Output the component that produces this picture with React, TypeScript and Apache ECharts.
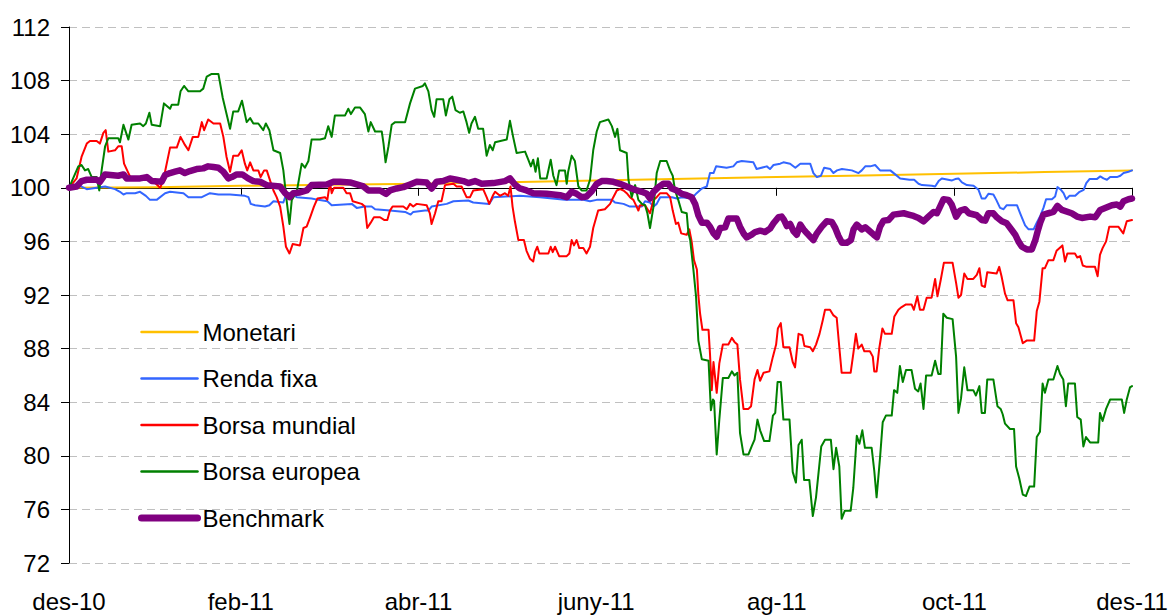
import React, { useEffect, useRef } from 'react';
import * as echarts from 'echarts';

// x = days elapsed since 2010-12-31
const tickDays = [0, 59, 120, 181, 243, 304, 365];
const tickLabels = ['des-10', 'feb-11', 'abr-11', 'juny-11', 'ag-11', 'oct-11', 'des-11'];

const seriesNames = ['Monetari', 'Renda fixa', 'Borsa mundial', 'Borsa europea', 'Benchmark'];

const monetari: [number, number][] = [
  [0, 100], [30, 100.05], [59, 100.15], [90, 100.22], [120, 100.3], [150, 100.42], [181, 100.55],
  [212, 100.67], [243, 100.8], [273, 100.92], [304, 101.05], [335, 101.17], [365, 101.3],
];

const rendaFixa: [number, number][] = [
  [0, 100], [3.2, 100.2], [6.1, 99.9], [12.4, 100.1], [15.8, 99.9], [17.5, 99.7], [18.7, 99.5], [19.8, 99.6],
  [22.7, 99.6], [24.4, 99.7], [26.4, 99.4], [27.8, 99.1], [30.1, 99.1], [33, 99.6], [34.7, 99.7], [39.3, 99.6],
  [41, 99.3], [45.6, 99.3], [48.4, 99.6], [51.3, 99.5], [55.3, 99.5], [60.4, 99.4], [61.6, 99.3], [62.4, 98.8],
  [63.9, 98.7], [67.3, 98.6], [68.8, 98.7], [70.2, 99.0], [73.6, 98.9], [74.7, 99.6], [75.9, 99.6], [78.2, 99.3],
  [83.3, 99.2], [85.6, 99.1], [88.7, 99.0], [90.2, 98.7], [97.1, 98.8], [98.8, 98.5], [101.6, 98.6], [103.9, 98.6],
  [105.1, 98.4], [110.2, 98.3], [115.4, 98.2], [117.3, 98.0], [118.2, 98.2], [122.2, 98.3], [123.4, 98.3],
  [124.5, 98.6], [129.7, 98.8], [132, 99.0], [137.1, 99.05], [138.8, 98.9], [144.3, 98.8], [145.7, 99.3],
  [154.8, 99.4], [161.7, 99.3], [170.3, 99.1], [176.6, 99.1], [178.9, 99.0], [181.2, 99.1], [186.4, 99.1],
  [187.5, 98.9], [190.4, 98.8], [192.6, 98.6], [196.7, 98.6], [197.8, 99.0], [199.5, 98.9], [200.7, 98.6],
  [201.8, 98.8], [203, 99.3], [207, 99.3], [208.7, 99.2], [210.4, 99.3], [213.8, 99.2], [215.5, 99.6],
  [217.3, 99.95], [219, 100.1], [220.1, 101.1], [221.3, 101.1], [222.2, 101.6], [225.8, 101.5], [228.1, 101.6],
  [229.3, 101.9], [231, 102.0], [235, 101.9], [236.1, 101.4], [239.6, 101.6], [240.7, 101.4], [241.9, 101.7],
  [244.2, 101.8], [245.3, 101.9], [247.6, 101.8], [249.4, 101.5], [251.1, 101.8], [254.5, 101.8], [255.6, 101.1],
  [256.8, 100.8], [258.2, 100.9], [259.3, 101.5], [261.4, 101.4], [262.5, 101.1], [263.7, 101.3], [265.4, 101.4],
  [268.8, 101.3], [271.1, 101.1], [272.2, 101.3], [273.4, 101.6], [275.1, 101.6], [276.8, 101.7], [278.5, 101.3],
  [282, 101.3], [283.7, 101.0], [285.4, 100.7], [288.6, 100.6], [290.2, 100.6], [291.7, 100.3], [292.9, 100.2],
  [296.3, 100.15], [297.4, 100.1], [298.6, 100.5], [299.7, 100.7], [303.2, 100.55], [304.3, 100.65], [305.4, 100.7],
  [306.6, 100.4], [308.3, 100.2], [310.6, 100.15], [312.3, 99.85], [313.4, 99.2], [314.6, 99.2], [315.7, 99.55],
  [317.4, 99.5], [318.4, 99.1], [319.7, 98.5], [320.9, 98.4], [322, 98.7], [325.5, 98.7], [326.6, 98.1],
  [328.3, 97.2], [329.5, 96.9], [331.2, 96.9], [332.3, 97.4], [333.5, 97.9], [334.6, 98.5], [335.5, 99.15],
  [337.5, 99.15], [338.6, 99.35], [339.4, 100.05], [340.6, 99.85], [341.5, 99.6], [342.4, 99.15], [343.5, 99.4],
  [345.5, 99.4], [347, 99.7], [348.4, 99.85], [349.3, 100.35], [350.4, 100.65], [352.9, 100.65], [354.1, 100.85],
  [355.2, 100.7], [356.4, 100.6], [357.5, 100.8], [359.8, 100.8], [361, 100.9], [362.1, 101.1], [363.8, 101.2],
  [365, 101.3],
];

const borsaMundial: [number, number][] = [
  [0, 100], [2.6, 100.7], [4.3, 102.3], [6.1, 103.3], [7.2, 103.5], [9.5, 103.5], [10.6, 103.3], [11.8, 104.1],
  [12.6, 104.3], [13.5, 102.7], [15.8, 102.8], [16.9, 103.1], [18.1, 103.1], [18.9, 101.8], [20.4, 101.1],
  [21.5, 100.6], [24.4, 100.6], [26.1, 100.8], [28.4, 100.6], [31.3, 100.0], [32.4, 100.6], [34.7, 103.0],
  [37, 103.0], [38.3, 103.8], [39.8, 103.2], [41, 102.8], [42.5, 103.8], [44.4, 103.8], [45.6, 104.9],
  [46.4, 104.3], [47.8, 105.1], [49.6, 104.8], [51.9, 104.8], [53, 103.8], [54.1, 102.3], [55.3, 101.2],
  [56.4, 102.4], [58.1, 102.4], [59.3, 102.8], [60.4, 101.8], [61.2, 101.3], [62.2, 101.9], [63.3, 101.3],
  [65, 101.3], [65.8, 100.8], [67, 101.3], [67.9, 101.3], [68.8, 100.7], [70.2, 99.8], [71.3, 99.3], [72.5, 98.6],
  [73.6, 97.1], [74.5, 95.6], [75.7, 95.1], [76.8, 95.8], [79.3, 95.7], [80.5, 97.0], [81.6, 97.1], [82.8, 97.8],
  [84.1, 98.6], [85.3, 99.2], [87.9, 99.3], [88.7, 99.1], [89.6, 100.4], [90.2, 99.6], [91, 100.0], [94.2, 100.0],
  [95.3, 99.6], [96.5, 99.6], [97.4, 99.0], [100.5, 98.8], [101.6, 98.6], [102.4, 97.0], [103.6, 97.4],
  [104.7, 97.8], [106.8, 97.8], [108.2, 97.6], [109.3, 97.6], [110.2, 98.3], [111.1, 98.6], [114.8, 98.6],
  [116, 98.4], [117.1, 98.8], [118.2, 98.6], [119.4, 98.8], [122.8, 98.7], [123.9, 98.1], [124.5, 97.3],
  [125.7, 98.1], [126.8, 99.0], [127.9, 99.0], [129.1, 100.2], [132, 100.3], [133.1, 100.1], [134.8, 100.1],
  [136.5, 99.3], [137.7, 99.3], [138.8, 99.8], [142.2, 99.9], [143.4, 99.3], [144.3, 98.8], [145.5, 99.4],
  [146.3, 99.7], [148, 99.4], [149.7, 99.6], [150.8, 99.4], [151.6, 100.1], [152.3, 98.6], [153.1, 97.5],
  [154.3, 96.1], [156.2, 96.1], [157.1, 95.3], [158.3, 94.7], [159.4, 94.5], [160, 95.2], [160.8, 95.6],
  [161.5, 95.1], [164.6, 95.1], [165.4, 95.6], [166.1, 95.2], [166.9, 95.6], [167.7, 95.2], [168.3, 94.9],
  [170.9, 94.9], [171.8, 95.1], [172.6, 96.1], [173.4, 95.7], [174.3, 96.1], [175.2, 95.5], [176.6, 95.5],
  [177.7, 95.1], [178.9, 95.6], [180, 97.0], [181.7, 98.3], [184, 98.4], [185.8, 98.8], [186.9, 99.3],
  [188.1, 99.8], [189.2, 99.9], [190.4, 99.8], [191.5, 99.6], [192.6, 99.3], [193.8, 99.1], [194.9, 98.6],
  [195.5, 98.3], [196.1, 98.7], [197.8, 98.7], [199.5, 98.1], [200.7, 99.1], [201.8, 99.3], [203, 99.6],
  [205.2, 99.6], [206.4, 99.3], [207.3, 98.3], [208.4, 97.3], [209.2, 97.4], [210.2, 96.6], [212.1, 96.5],
  [213, 96.9], [213.8, 96.0], [214.6, 94.6], [215.6, 93.9], [216.1, 92.0], [216.7, 90.6], [217.5, 89.4],
  [219.6, 89.4], [220.1, 87.6], [220.7, 84.9], [221.3, 87.0], [222.4, 84.7], [223.3, 86.9], [224.5, 88.3],
  [226.4, 88.3], [227.6, 88.8], [228.5, 88.5], [229.5, 88.3], [230.4, 85.7], [231.6, 83.5], [233.3, 83.5],
  [234.2, 83.7], [235.4, 85.7], [236.4, 86.4], [237.3, 85.6], [238.5, 86.2], [240.5, 86.3], [241.7, 87.4],
  [242.8, 88.3], [243.4, 89.5], [244.4, 89.9], [245.3, 88.1], [247.4, 88.1], [248.5, 87.0], [249.3, 86.6],
  [250.5, 89.1], [251.8, 89.0], [252.5, 88.2], [254.5, 88.1], [255.4, 87.8], [256.5, 88.3], [257.7, 89.1],
  [258.8, 90.1], [259.6, 90.9], [261.3, 90.9], [262.4, 90.5], [263.6, 90.3], [264.5, 88.1], [265.3, 86.2],
  [268.4, 86.2], [269.3, 87.6], [270.2, 89.1], [271, 88.0], [272.2, 88.3], [273.1, 87.8], [275, 87.8],
  [276, 87.4], [276.5, 86.3], [277.3, 86.3], [278.2, 88.0], [279.3, 89.5], [280.2, 89.1], [282.5, 89.1],
  [283.4, 90.4], [284.8, 90.9], [285.9, 91.1], [287.4, 91.3], [289.3, 91.3], [290.1, 90.9], [291.3, 91.9],
  [292.2, 90.9], [293.4, 90.9], [294.5, 91.8], [296.2, 91.8], [297.4, 93.2], [298.2, 91.9], [299.3, 93.1],
  [300.4, 94.4], [303.4, 94.4], [304.6, 92.9], [305.4, 91.8], [306.3, 92.0], [307.4, 93.6], [308.5, 93.2],
  [310.5, 93.2], [311.7, 93.5], [312.6, 94.0], [313.4, 92.7], [314.5, 92.6], [315.3, 93.7], [318.5, 93.6],
  [319.4, 94.1], [320.2, 93.4], [321.4, 92.1], [322.3, 91.6], [324.3, 91.6], [325.2, 89.9], [326, 89.6],
  [327.5, 88.4], [328.8, 88.6], [331.4, 88.6], [332.3, 90.8], [333.2, 91.5], [334.3, 94.0], [335.1, 94.0],
  [336.3, 94.6], [338, 94.6], [339.1, 95.3], [341.1, 95.7], [342, 94.5], [342.8, 95.1], [345.4, 95.1],
  [346.2, 94.8], [347.2, 94.9], [348.1, 94.2], [349.4, 94.1], [352.3, 94.1], [353.2, 93.4], [354, 95.0],
  [354.9, 95.5], [356.1, 96.0], [357.2, 97.1], [360.3, 97.1], [362, 96.6], [363.2, 97.5], [365, 97.6],
];

const borsaEuropea: [number, number][] = [
  [0, 100], [3.2, 101.6], [4.3, 101.7], [5.5, 101.3], [6.6, 101.4], [7.8, 100.8], [9.5, 100.8], [10.4, 99.8],
  [11.2, 101.3], [12.4, 103.1], [13.5, 103.7], [16.9, 103.7], [17.5, 103.4], [18.7, 104.7], [20.4, 103.6],
  [21.5, 104.7], [24.4, 104.8], [25.5, 104.6], [26.4, 104.8], [27.6, 105.6], [28.4, 104.7], [31.3, 104.6],
  [32.6, 106.3], [34.7, 105.9], [35.3, 106.2], [37.5, 106.2], [38.3, 107.2], [39.5, 107.6], [41, 107.2],
  [45, 107.2], [46.1, 107.4], [47.3, 108.3], [49, 108.5], [51.3, 108.5], [52.8, 106.7], [55.3, 104.4],
  [56.4, 105.7], [58.1, 105.7], [59.4, 106.5], [61, 104.9], [62.2, 105.2], [63.3, 104.8], [65, 104.8],
  [66.7, 104.3], [67.6, 104.8], [68.8, 104.3], [70.2, 102.8], [72.5, 102.6], [73.6, 101.3], [74.7, 99.1],
  [75.7, 97.3], [76.5, 99.1], [78.2, 99.7], [79.9, 101.8], [81, 101.5], [82.2, 102.0], [83.3, 103.6],
  [86.2, 103.6], [87.9, 103.7], [89, 104.6], [90.2, 103.8], [91.3, 105.4], [94.8, 105.4], [95.9, 105.9],
  [96.8, 105.5], [98.2, 106.0], [99.9, 106.0], [101.6, 105.5], [102.8, 104.2], [103.6, 104.9], [105.1, 104.2],
  [107.4, 104.2], [108, 103.3], [108.7, 101.9], [109.7, 103.1], [110.8, 104.7], [112, 104.9], [115.4, 104.9],
  [117.1, 106.3], [118.8, 107.4], [121.5, 107.6], [122.2, 107.8], [123.4, 107.2], [124.5, 105.8], [125.4, 105.3],
  [126.2, 106.6], [128.5, 106.6], [129.4, 105.4], [130.6, 106.6], [131.6, 106.8], [132.7, 105.8], [134.2, 105.6],
  [135.4, 105.7], [136.5, 104.9], [137.4, 104.1], [138.2, 104.8], [139.4, 105.3], [140.5, 104.4], [142.2, 104.4],
  [143.4, 102.4], [144.5, 103.2], [145.5, 102.8], [146.3, 103.4], [150.3, 103.6], [151.4, 105.0], [152.5, 103.8],
  [153.7, 102.6], [156.6, 102.7], [157.7, 102.1], [158.6, 101.6], [159.4, 102.1], [160.2, 101.2], [161, 102.2],
  [161.8, 100.7], [164, 100.7], [165.4, 102.1], [166.3, 100.9], [167.4, 100.2], [168.3, 101.3], [170.3, 101.3],
  [170.9, 100.3], [171.4, 101.2], [172.6, 102.4], [173.7, 102.0], [174.9, 100.1], [176, 99.8], [177.7, 99.8],
  [178.9, 100.6], [180, 102.8], [181.2, 104.2], [182.3, 104.9], [185.2, 105.1], [186.4, 104.6], [187.5, 103.8],
  [188.3, 104.4], [189.2, 102.8], [191.5, 102.6], [192.1, 100.6], [193.2, 99.3], [194.4, 100.2], [195.5, 99.1],
  [196.7, 98.8], [197.8, 98.7], [198.6, 98.1], [199.5, 97.0], [200.7, 98.6], [201.8, 101.1], [203, 102.0],
  [205.2, 102.0], [206.4, 101.3], [207.3, 100.9], [208.1, 99.8], [209.2, 99.1], [210.4, 98.2], [212.1, 98.1],
  [212.7, 96.6], [213.3, 96.1], [214.4, 93.9], [215.3, 91.9], [216.1, 88.6], [217.3, 87.2], [219.6, 87.1],
  [220.4, 83.4], [221.1, 84.2], [221.5, 84.1], [222.4, 80.1], [223.3, 82.7], [224.5, 85.8], [226.4, 85.8],
  [227.6, 86.3], [228.5, 86.0], [229.5, 86.2], [230.4, 81.7], [231.6, 80.1], [233.3, 80.1], [234.4, 80.7],
  [235.4, 81.2], [236.4, 82.7], [237.3, 81.9], [238.7, 81.1], [240.5, 81.1], [241.7, 83.0], [242.5, 83.2],
  [243.3, 85.5], [244.4, 85.5], [245.3, 82.7], [247.4, 82.7], [248.5, 78.8], [249.6, 78.0], [250.5, 80.8],
  [251.6, 81.2], [252.4, 78.2], [254.2, 78.2], [255.4, 75.5], [256.5, 76.9], [258.3, 80.7], [259.6, 81.2],
  [261.6, 81.2], [262.5, 79.0], [263.4, 80.6], [264.5, 79.2], [265.3, 75.3], [266.4, 75.9], [268.4, 75.9],
  [269.3, 77.6], [270.5, 81.5], [271.4, 80.9], [272.4, 81.9], [273.3, 80.6], [275.6, 80.6], [276.5, 78.9],
  [277.3, 76.9], [278.5, 79.9], [279.4, 82.5], [280.5, 83.0], [282.5, 83.0], [283.3, 84.9], [284.4, 84.7],
  [285.3, 86.7], [286.3, 85.5], [287.4, 86.4], [289.3, 86.4], [290.5, 85.0], [291.6, 84.8], [292.4, 85.4],
  [293.4, 83.5], [294.3, 86.0], [296.2, 86.0], [297.4, 87.1], [298.5, 86.1], [299.3, 86.1], [300.2, 90.6],
  [301.4, 90.3], [303.4, 90.2], [304.6, 87.4], [305.4, 83.2], [306.3, 84.3], [307.4, 86.6], [308.5, 84.9],
  [310.5, 84.9], [311.4, 84.5], [312.6, 85.2], [313.4, 83.2], [314.5, 83.2], [315.3, 85.7], [317.4, 85.7],
  [318.8, 83.7], [319.9, 83.5], [320.6, 83.1], [321.4, 82.4], [323.1, 82.0], [324.5, 82.0], [325.2, 79.2],
  [326.3, 78.3], [327.5, 77.1], [328.6, 77.0], [329.8, 77.7], [331.4, 77.7], [332.3, 81.4], [333.4, 81.8],
  [334.3, 85.4], [335.1, 84.7], [336.3, 85.7], [338, 85.7], [339.4, 86.7], [340.3, 86.1], [341.4, 85.7],
  [342.3, 83.7], [343.1, 85.4], [345.4, 85.4], [346.2, 82.9], [347.4, 82.7], [348.3, 80.7], [349.2, 81.4],
  [350.6, 81.0], [353.4, 81.0], [354, 83.2], [354.9, 82.6], [356.1, 83.5], [357.5, 84.2], [361.5, 84.2],
  [362.3, 83.2], [363.2, 84.2], [364.3, 85.1], [365, 85.2],
];

const benchmark: [number, number][] = [
  [0, 100], [2.6, 100.1], [4.3, 100.5], [6.1, 100.6], [9.5, 100.6], [10.6, 100.45], [12.4, 101.0], [16.9, 100.9],
  [18.7, 101.0], [19.8, 100.7], [24.4, 100.7], [26.7, 100.8], [28.4, 100.5], [31.8, 100.45], [33, 100.95],
  [34.7, 101.1], [36.4, 101.2], [38.1, 101.3], [39.8, 101.1], [41.5, 101.25], [43.8, 101.4], [46.1, 101.45],
  [47.8, 101.6], [49.6, 101.55], [51.3, 101.5], [53, 101.2], [54.7, 100.7], [55.9, 100.8], [57.6, 101.0],
  [59.5, 101.0], [61.5, 100.7], [63.3, 100.5], [65.6, 100.45], [67.9, 100.2], [72.5, 100.1], [74.2, 99.6],
  [75.7, 99.3], [77, 99.6], [79.3, 99.65], [81.6, 99.8], [83.3, 100.2], [88.5, 100.25], [90.8, 100.45],
  [93.1, 100.45], [96.5, 100.4], [98.8, 100.25], [101.1, 100.1], [102.8, 99.8], [106.8, 99.8], [108.9, 99.55],
  [110.2, 99.8], [112.5, 99.95], [114.8, 100.05], [117.1, 100.25], [119.4, 100.45], [122.8, 100.4], [124.5, 99.95],
  [126.2, 100.45], [128.5, 100.5], [130.8, 100.7], [133.1, 100.6], [135.4, 100.5], [137.1, 100.35], [139.4, 100.5],
  [141.7, 100.3], [145.7, 100.35], [149.7, 100.5], [151.4, 100.7], [153.1, 100.25], [154.8, 99.95], [157.1, 99.8],
  [159.4, 99.6], [164, 99.55], [166.3, 99.5], [168.6, 99.45], [170.9, 99.3], [172.6, 99.7], [174.3, 99.55],
  [176, 99.3], [177.7, 99.35], [179.5, 99.75], [181.2, 100.3], [182.9, 100.5], [184.6, 100.5], [186.9, 100.45],
  [189.2, 100.3], [191.5, 100.1], [193.2, 99.95], [195, 99.8], [196.7, 99.7], [198.4, 99.55], [199.5, 99.2],
  [200.7, 99.7], [202.4, 100.05], [204.1, 100.3], [205.8, 100.3], [207, 99.95], [208.7, 99.8], [210.4, 99.55],
  [212.1, 99.45], [213.8, 99.3], [215, 98.8], [216.1, 97.95], [217.3, 97.4], [219, 97.4], [220.1, 97.1],
  [221.3, 96.6], [222.4, 96.35], [223.6, 97.0], [225.3, 97.05], [226.4, 97.7], [229.3, 97.7], [230.4, 97.1],
  [231.6, 96.6], [232.7, 96.3], [234.4, 96.5], [235.6, 96.7], [237.3, 96.8], [239, 96.7], [240.7, 96.95],
  [241.9, 97.35], [243.6, 97.8], [244.7, 97.85], [245.5, 97.6], [246.5, 97.15], [247.6, 97.3], [248.8, 96.75],
  [249.9, 96.5], [251.1, 97.25], [252.2, 96.9], [253.4, 96.6], [254.5, 96.35], [255.6, 96.1], [256.8, 96.6],
  [258.5, 97.1], [260.2, 97.5], [261.9, 97.45], [263.1, 97.0], [264.2, 96.4], [265.4, 95.9], [267.1, 95.9],
  [268.5, 96.1], [269.4, 96.9], [270.5, 97.25], [272.2, 96.9], [273.4, 97.05], [274.5, 96.85], [276.3, 96.5],
  [277.4, 96.3], [278.5, 97.1], [279.7, 97.55], [281.4, 97.6], [283.1, 98.0], [286.6, 98.1], [288.3, 98.0],
  [290, 97.9], [291.7, 97.75], [293.4, 97.5], [295.1, 97.85], [296.9, 98.2], [298, 98.1], [298.9, 98.5],
  [300.3, 99.15], [302, 99.1], [303.1, 98.75], [304.6, 97.85], [306, 98.3], [307.7, 98.4], [309, 98.1],
  [311.7, 97.95], [313.4, 97.6], [314.6, 97.55], [315.7, 98.1], [317.4, 98.1], [318.6, 97.8], [320.3, 97.5],
  [322, 97.35], [323.7, 96.85], [324.9, 96.5], [326, 96.0], [327.2, 95.6], [328.9, 95.4], [330.6, 95.4],
  [331.8, 96.1], [332.6, 96.75], [333.5, 97.4], [334.6, 98.0], [336.3, 98.1], [338, 98.2], [339.4, 98.65],
  [340.9, 98.35], [344.3, 98.1], [346.1, 97.85], [347.8, 97.75], [350.6, 97.85], [352.4, 97.8], [354.1, 98.35],
  [356.4, 98.55], [358.1, 98.7], [359.8, 98.75], [361, 98.6], [362.1, 99.0], [363.8, 99.15], [365, 99.2],
];

const Y_MIN = 72;
const Y_MAX = 112;
const Y_STEP = 4;
const BASE_LEVEL = 100;

const FONT = '"Liberation Sans", Arial, Helvetica, sans-serif';
const W = 1171;
const H = 615;
const GRID = { left: 69, right: 39, top: 27, bottom: 52 };

export default function App() {
  const ref = useRef<HTMLDivElement>(null);

  useEffect(() => {
    if (!ref.current) return;
    const chart = echarts.init(ref.current, null, { renderer: 'svg' });
    const plotH = H - GRID.top - GRID.bottom;
    const baseOffset = -plotH * (BASE_LEVEL - Y_MIN) / (Y_MAX - Y_MIN);
    const labelFor = (v: number) => {
      const i = tickDays.indexOf(Math.round(v));
      return i >= 0 ? tickLabels[i] : '';
    };
    const seriesData = [monetari, rendaFixa, borsaMundial, borsaEuropea, benchmark];
    const colors = ['#FFC000', '#3366FF', '#FF0000', '#008000', '#800080'];
    const widths = [2, 2, 2, 2, 6.5];
    const legendWidths = [2.5, 2.5, 2.5, 2.5, 7];

    chart.setOption({
      animation: false,
      backgroundColor: '#ffffff',
      grid: { ...GRID, containLabel: false },
      legend: {
        orient: 'vertical',
        left: 133,
        top: 315,
        itemWidth: 56,
        itemHeight: 14,
        itemGap: 22.5,
        data: seriesNames.map((name, i) => ({
          name,
          lineStyle: { width: legendWidths[i], color: colors[i], cap: 'round' },
        })),
        itemStyle: { opacity: 0 },
        textStyle: { fontFamily: FONT, fontSize: 24, color: '#000', lineHeight: 24 },
      },
      xAxis: [
        {
          type: 'value',
          min: 0,
          max: 365,
          position: 'bottom',
          axisLine: { show: false },
          axisTick: { show: false },
          splitLine: { show: false },
          axisLabel: {
            customValues: tickDays,
            formatter: labelFor,
            fontFamily: FONT,
            fontSize: 24,
            color: '#000',
            margin: 26,
          },
        },
        {
          type: 'value',
          min: 0,
          max: 365,
          position: 'bottom',
          offset: baseOffset,
          axisLine: { show: true, onZero: false, lineStyle: { color: '#000', width: 1 } },
          axisTick: { show: true, customValues: tickDays, length: 8, lineStyle: { color: '#000', width: 1 } },
          axisLabel: { show: false },
          splitLine: { show: false },
        },
      ],
      yAxis: {
        type: 'value',
        min: Y_MIN,
        max: Y_MAX,
        interval: Y_STEP,
        axisLine: { show: true, lineStyle: { color: '#000', width: 1 } },
        axisTick: { show: true, length: 8, lineStyle: { color: '#000' } },
        splitLine: { show: true, lineStyle: { color: '#C0C0C0', type: [8, 5], width: 1 } },
        axisLabel: { fontFamily: FONT, fontSize: 24, color: '#000', margin: 19 },
      },
      series: seriesNames.map((name, i) => ({
        name,
        type: 'line',
        xAxisIndex: 0,
        yAxisIndex: 0,
        data: seriesData[i],
        symbol: 'none',
        showSymbol: false,
        color: colors[i],
        lineStyle: { color: colors[i], width: widths[i], cap: 'round', join: 'round' },
        z: 2 + i,
      })),
    });

    return () => chart.dispose();
  }, []);

  return (
    <div
      ref={ref}
      style={{ position: 'absolute', left: 0, top: 0, width: W, height: H, background: '#fff' }}
    />
  );
}
